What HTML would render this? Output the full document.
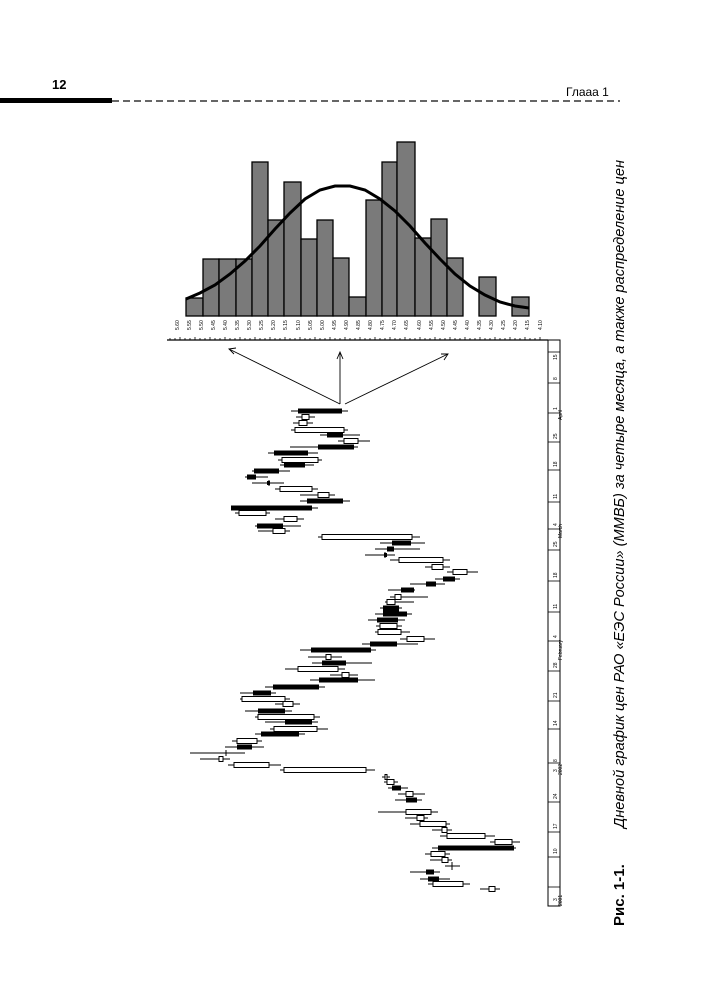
<!DOCTYPE html>
<html><head><meta charset="utf-8"><style>
html,body{margin:0;padding:0;background:#fff;}
svg{display:block;}
</style></head><body>
<svg width="713" height="1000" viewBox="0 0 713 1000" xmlns="http://www.w3.org/2000/svg" font-family="Liberation Sans, sans-serif">
<!-- header -->
<text x="52" y="89" font-size="13" font-weight="bold">12</text>
<rect x="0" y="98" width="112" height="5" fill="#000"/>
<line x1="112" y1="101" x2="620" y2="101" stroke="#333" stroke-width="1.6" stroke-dasharray="7,4"/>
<text x="566" y="96" font-size="12">Глааа 1</text>

<!-- histogram bars -->
<g fill="#7a7a7a" stroke="#000" stroke-width="1.3">
<rect x="186" y="298" width="17" height="18"/>
<rect x="203" y="259" width="16" height="57"/>
<rect x="219" y="259" width="17" height="57"/>
<rect x="236" y="259" width="16" height="57"/>
<rect x="252" y="162" width="16" height="154"/>
<rect x="268" y="220" width="16" height="96"/>
<rect x="284" y="182" width="17" height="134"/>
<rect x="301" y="239" width="16" height="77"/>
<rect x="317" y="220" width="16" height="96"/>
<rect x="333" y="258" width="16" height="58"/>
<rect x="349" y="297" width="17" height="19"/>
<rect x="366" y="200" width="16" height="116"/>
<rect x="382" y="162" width="15" height="154"/>
<rect x="397" y="142" width="18" height="174"/>
<rect x="415" y="238" width="16" height="78"/>
<rect x="431" y="219" width="16" height="97"/>
<rect x="447" y="258" width="16" height="58"/>
<rect x="479" y="277" width="17" height="39"/>
<rect x="512" y="297" width="17" height="19"/>
</g>
<polyline fill="none" stroke="#000" stroke-width="3" points="186,299 200,293 215,285 230,274 245,261 260,246 275,229 290,213 305,199 320,190 335,186 350,186 365,190 380,199 395,211 410,226 425,243 440,259 455,274 470,286 485,295 500,302 515,306 529,308"/>

<!-- x labels -->
<g font-size="5" fill="#000">
<text transform="translate(179,330) rotate(-90)">5.60</text>
<text transform="translate(191,330) rotate(-90)">5.55</text>
<text transform="translate(203,330) rotate(-90)">5.50</text>
<text transform="translate(215,330) rotate(-90)">5.45</text>
<text transform="translate(227,330) rotate(-90)">5.40</text>
<text transform="translate(239,330) rotate(-90)">5.35</text>
<text transform="translate(251,330) rotate(-90)">5.30</text>
<text transform="translate(263,330) rotate(-90)">5.25</text>
<text transform="translate(275,330) rotate(-90)">5.20</text>
<text transform="translate(287,330) rotate(-90)">5.15</text>
<text transform="translate(300,330) rotate(-90)">5.10</text>
<text transform="translate(312,330) rotate(-90)">5.05</text>
<text transform="translate(324,330) rotate(-90)">5.00</text>
<text transform="translate(336,330) rotate(-90)">4.95</text>
<text transform="translate(348,330) rotate(-90)">4.90</text>
<text transform="translate(360,330) rotate(-90)">4.85</text>
<text transform="translate(372,330) rotate(-90)">4.80</text>
<text transform="translate(384,330) rotate(-90)">4.75</text>
<text transform="translate(396,330) rotate(-90)">4.70</text>
<text transform="translate(408,330) rotate(-90)">4.65</text>
<text transform="translate(421,330) rotate(-90)">4.60</text>
<text transform="translate(433,330) rotate(-90)">4.55</text>
<text transform="translate(445,330) rotate(-90)">4.50</text>
<text transform="translate(457,330) rotate(-90)">4.45</text>
<text transform="translate(469,330) rotate(-90)">4.40</text>
<text transform="translate(481,330) rotate(-90)">4.35</text>
<text transform="translate(493,330) rotate(-90)">4.30</text>
<text transform="translate(505,330) rotate(-90)">4.25</text>
<text transform="translate(517,330) rotate(-90)">4.20</text>
<text transform="translate(529,330) rotate(-90)">4.15</text>
<text transform="translate(542,330) rotate(-90)">4.10</text>
</g>

<!-- horizontal axis -->
<line x1="167" y1="340" x2="548" y2="340" stroke="#000" stroke-width="1.2"/>
<path d="M170 340v-2M175 340v-2M180 340v-3M185 340v-2M190 340v-2M195 340v-3M200 340v-2M205 340v-2M210 340v-3M215 340v-2M220 340v-2M225 340v-3M230 340v-2M235 340v-2M240 340v-3M245 340v-2M250 340v-2M255 340v-3M260 340v-2M265 340v-2M270 340v-3M275 340v-2M280 340v-2M285 340v-3M290 340v-2M295 340v-2M300 340v-3M305 340v-2M310 340v-2M315 340v-3M320 340v-2M325 340v-2M330 340v-3M335 340v-2M340 340v-2M345 340v-3M350 340v-2M355 340v-2M360 340v-3M365 340v-2M370 340v-2M375 340v-3M380 340v-2M385 340v-2M390 340v-3M395 340v-2M400 340v-2M405 340v-3M410 340v-2M415 340v-2M420 340v-3M425 340v-2M430 340v-2M435 340v-3M440 340v-2M445 340v-2M450 340v-3M455 340v-2M460 340v-2M465 340v-3M470 340v-2M475 340v-2M480 340v-3M485 340v-2M490 340v-2M495 340v-3M500 340v-2M505 340v-2M510 340v-3M515 340v-2M520 340v-2M525 340v-3M530 340v-2M535 340v-2M540 340v-3" stroke="#000" stroke-width="0.8"/>

<!-- right date axis -->
<rect x="548" y="340" width="12" height="566" fill="none" stroke="#000" stroke-width="1"/>
<g stroke="#000" stroke-width="0.8">
<line x1="548" y1="887" x2="560" y2="887"/><line x1="548" y1="857" x2="560" y2="857"/><line x1="548" y1="832" x2="560" y2="832"/><line x1="548" y1="802" x2="560" y2="802"/><line x1="548" y1="763" x2="560" y2="763"/><line x1="548" y1="729" x2="560" y2="729"/><line x1="548" y1="701" x2="560" y2="701"/><line x1="548" y1="671" x2="560" y2="671"/><line x1="548" y1="641" x2="560" y2="641"/><line x1="548" y1="612" x2="560" y2="612"/><line x1="548" y1="581" x2="560" y2="581"/><line x1="548" y1="550" x2="560" y2="550"/><line x1="548" y1="529" x2="560" y2="529"/><line x1="548" y1="502" x2="560" y2="502"/><line x1="548" y1="470" x2="560" y2="470"/><line x1="548" y1="442" x2="560" y2="442"/><line x1="548" y1="413" x2="560" y2="413"/><line x1="548" y1="383" x2="560" y2="383"/><line x1="548" y1="352" x2="560" y2="352"/>
</g>
<g font-size="5" fill="#000">
<text transform="translate(557,901) rotate(-90)">3</text>
<text transform="translate(562,906) rotate(-90)">2001</text>
<text transform="translate(557,854) rotate(-90)">10</text>
<text transform="translate(557,829) rotate(-90)">17</text>
<text transform="translate(557,799) rotate(-90)">24</text>
<text transform="translate(557,772) rotate(-90)">3</text>
<text transform="translate(557,762) rotate(-90)">8</text>
<text transform="translate(562,775) rotate(-90)">2002</text>
<text transform="translate(557,726) rotate(-90)">14</text>
<text transform="translate(557,698) rotate(-90)">21</text>
<text transform="translate(557,668) rotate(-90)">28</text>
<text transform="translate(557,638) rotate(-90)">4</text>
<text transform="translate(562,660) rotate(-90)">February</text>
<text transform="translate(557,609) rotate(-90)">11</text>
<text transform="translate(557,578) rotate(-90)">18</text>
<text transform="translate(557,547) rotate(-90)">25</text>
<text transform="translate(557,526) rotate(-90)">4</text>
<text transform="translate(562,538) rotate(-90)">March</text>
<text transform="translate(557,499) rotate(-90)">11</text>
<text transform="translate(557,467) rotate(-90)">18</text>
<text transform="translate(557,439) rotate(-90)">25</text>
<text transform="translate(557,410) rotate(-90)">1</text>
<text transform="translate(562,420) rotate(-90)">April</text>
<text transform="translate(557,380) rotate(-90)">8</text>
<text transform="translate(557,360) rotate(-90)">15</text>
</g>

<!-- arrows -->
<g stroke="#000" stroke-width="0.9" fill="none">
<line x1="340" y1="404" x2="229" y2="349"/>
<polyline points="236,348 229,349 234,354"/>
<line x1="340" y1="404" x2="340" y2="352"/>
<polyline points="337,359 340,352 343,359"/>
<line x1="345" y1="404" x2="448" y2="354"/>
<polyline points="441,354 448,354 444,360"/>
</g>

<!-- candles: wicks -->
<g stroke="#000" stroke-width="1">
<path d="M291 411H348M296 417H315M293 423H313M291 430H348M320 435H360M338 441H370M290 447H358M268 453H318M278 460H322M280 465H314M252 471H290M245 477H268M252 483H284M275 489H318M300 495H335M300 501H350M231 508H318M235 513H270M275 519H304M255 526H301M258 531H290M318 537H420M380 543H425M375 549H420M365 555H395M390 560H450M425 567H450M447 572H478M435 579H460M410 584H445M388 590H415M390 597H428M385 602H414M380 608H402M375 614H412M368 620H405M376 626H402M375 632H410M400 639H435M362 644H418M300 650H376M308 657H342M312 663H372M285 669H345M330 675H358M310 680H375M265 687H325M240 693H276M240 699H290M275 704H300M245 711H292M255 717H320M265 722H318M270 729H328M255 734H305M232 741H262M225 747H264M190 753H245M200 759H230M228 765H281M280 770H375M382 777H390M384 782H398M388 788H408M398 794H425M395 800H422M378 812H438M405 818H428M410 824H450M432 830H452M440 836H495M490 842H520M432 848H516M425 854H450M430 860H452M445 866H460M410 872H440M420 879H450M428 884H470M480 889H500"/>
<path d="M452 862V870M269 480V486M385 552V558M226 750V756"/>
</g>
<!-- black candles -->
<g fill="#000">
<rect x="298" y="408.5" width="44" height="5"/>
<rect x="327" y="432.5" width="16" height="5"/>
<rect x="318" y="444.5" width="36" height="5"/>
<rect x="274" y="450.5" width="34" height="5"/>
<rect x="284" y="462.5" width="21" height="5"/>
<rect x="254" y="468.5" width="25" height="5"/>
<rect x="247" y="474.5" width="9" height="5"/>
<rect x="267" y="481" width="3" height="4"/>
<rect x="307" y="498.5" width="36" height="5"/>
<rect x="231" y="505.5" width="81" height="5"/>
<rect x="257" y="523.5" width="26" height="5"/>
<rect x="392" y="540.5" width="19" height="5"/>
<rect x="387" y="546.5" width="7" height="5"/>
<rect x="384" y="553" width="3" height="4"/>
<rect x="443" y="576.5" width="12" height="5"/>
<rect x="426" y="581.5" width="10" height="5"/>
<rect x="401" y="587.5" width="13" height="5"/>
<rect x="383" y="605.5" width="16" height="6"/>
<rect x="383" y="611.5" width="24" height="5"/>
<rect x="377" y="617.5" width="21" height="5"/>
<rect x="370" y="641.5" width="27" height="5"/>
<rect x="311" y="647.5" width="60" height="5"/>
<rect x="322" y="660.5" width="24" height="5"/>
<rect x="319" y="677.5" width="39" height="5"/>
<rect x="273" y="684.5" width="46" height="5"/>
<rect x="253" y="690.5" width="18" height="5"/>
<rect x="258" y="708.5" width="27" height="5"/>
<rect x="285" y="719.5" width="27" height="5"/>
<rect x="261" y="731.5" width="38" height="5"/>
<rect x="237" y="744.5" width="15" height="5"/>
<rect x="392" y="785.5" width="9" height="5"/>
<rect x="406" y="797.5" width="11" height="5"/>
<rect x="438" y="845.5" width="76" height="5"/>
<rect x="426" y="869.5" width="8" height="5"/>
<rect x="428" y="876.5" width="11" height="5"/>
</g>
<!-- white candles -->
<g fill="#fff" stroke="#000" stroke-width="1">
<rect x="302" y="414.5" width="7" height="5"/>
<rect x="299" y="420.5" width="8" height="5"/>
<rect x="295" y="427.5" width="49" height="5"/>
<rect x="344" y="438.5" width="14" height="5"/>
<rect x="282" y="457.5" width="36" height="5"/>
<rect x="280" y="486.5" width="32" height="5"/>
<rect x="318" y="492.5" width="11" height="5"/>
<rect x="239" y="510.5" width="27" height="5"/>
<rect x="284" y="516.5" width="13" height="5"/>
<rect x="273" y="528.5" width="12" height="5"/>
<rect x="322" y="534.5" width="90" height="5"/>
<rect x="399" y="557.5" width="44" height="5"/>
<rect x="432" y="564.5" width="11" height="5"/>
<rect x="453" y="569.5" width="14" height="5"/>
<rect x="395" y="594.5" width="6" height="5"/>
<rect x="387" y="599.5" width="8" height="5"/>
<rect x="380" y="623.5" width="17" height="5"/>
<rect x="378" y="629.5" width="23" height="5"/>
<rect x="407" y="636.5" width="17" height="5"/>
<rect x="326" y="654.5" width="5" height="5"/>
<rect x="298" y="666.5" width="40" height="5"/>
<rect x="342" y="672.5" width="7" height="5"/>
<rect x="242" y="696.5" width="43" height="5"/>
<rect x="283" y="701.5" width="10" height="5"/>
<rect x="258" y="714.5" width="56" height="5"/>
<rect x="274" y="726.5" width="43" height="5"/>
<rect x="237" y="738.5" width="20" height="5"/>
<rect x="219" y="756.5" width="4" height="5"/>
<rect x="234" y="762.5" width="35" height="5"/>
<rect x="284" y="767.5" width="82" height="5"/>
<rect x="385" y="774.5" width="2" height="5"/>
<rect x="387" y="779.5" width="7" height="5"/>
<rect x="406" y="791.5" width="7" height="5"/>
<rect x="406" y="809.5" width="25" height="5"/>
<rect x="417" y="815.5" width="7" height="5"/>
<rect x="420" y="821.5" width="26" height="5"/>
<rect x="442" y="827.5" width="5" height="5"/>
<rect x="447" y="833.5" width="38" height="5"/>
<rect x="495" y="839.5" width="17" height="5"/>
<rect x="431" y="851.5" width="14" height="5"/>
<rect x="442" y="857.5" width="6" height="5"/>
<rect x="433" y="881.5" width="30" height="5"/>
<rect x="489" y="886.5" width="6" height="5"/>
</g>

<!-- caption -->
<g transform="translate(624,926) rotate(-90)" fill="#000">
<text x="0" y="0" font-size="15" font-weight="bold">Рис. 1-1.</text>
<text x="98" y="0" font-size="15" font-style="italic" textLength="668" lengthAdjust="spacingAndGlyphs">Дневной график цен РАО «ЕЭС России» (ММВБ) за четыре месяца, а также распределение цен</text>
</g>
</svg>
</body></html>
